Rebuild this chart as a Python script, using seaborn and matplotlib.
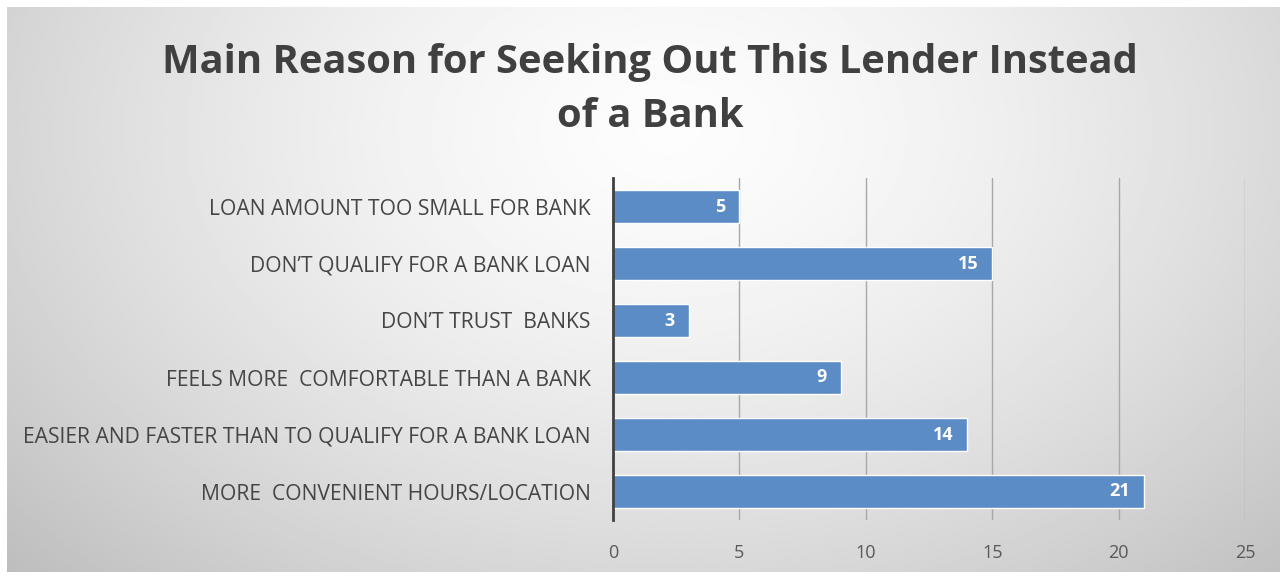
import numpy as np
import pandas as pd
import matplotlib
matplotlib.use("Agg")
import matplotlib.pyplot as plt
import seaborn as sns

# Survey responses
reasons = [
    "LOAN AMOUNT TOO SMALL FOR BANK",
    "DON\u2019T QUALIFY FOR A BANK LOAN",
    "DON\u2019T TRUST  BANKS",
    "FEELS MORE  COMFORTABLE THAN A BANK",
    "EASIER AND FASTER THAN TO QUALIFY FOR A BANK LOAN",
    "MORE  CONVENIENT HOURS/LOCATION",
]
counts = [5, 15, 3, 9, 14, 21]
x_ticks = [0, 5, 10, 15, 20, 25]

df = pd.DataFrame({"reason": reasons, "count": counts})

sns.set_theme(style="white")
plt.rcParams["font.family"] = ["Open Sans", "DejaVu Sans"]

W, H = 1287, 578
fig = plt.figure(figsize=(W / 100, H / 100), dpi=100)
fig.patch.set_facecolor("white")

# Radial grey gradient panel behind the chart
bg = fig.add_axes([7 / W, 1 - 572 / H, (1280 - 7) / W, (572 - 7) / H])
gx, gy = np.meshgrid(np.linspace(0, 1, 600), np.linspace(0, 1, 300))
r = np.sqrt(((gx - 0.52) / 0.6) ** 2 + ((gy - 0.22) / 0.95) ** 2)
shade = np.clip(0.99 - 0.19 * r ** 1.5, 0, 1)
bg.imshow(shade, cmap="gray", vmin=0, vmax=1, aspect="auto",
          extent=[0, 1, 1, 0], interpolation="bilinear")
bg.set_axis_off()

ax = fig.add_axes([613 / W, 1 - 520 / H, (1245 - 613) / W, (520 - 178) / H])
ax.patch.set_alpha(0)

sns.barplot(data=df, y="reason", x="count", orient="h", color="#5b8cc6",
            width=0.58, ax=ax, saturation=1, zorder=3)

ax.set_xlim(0, 25)
ax.set_ylim(5.5, -0.5)
ax.set_xticks(x_ticks)
ax.set_xticklabels([str(t) for t in x_ticks])
ax.grid(axis="x", color="#a8a8a8", linewidth=1.0, zorder=0)
ax.set_axisbelow(True)
for s in ["top", "right", "bottom"]:
    ax.spines[s].set_visible(False)
ax.spines["left"].set_color("#404040")
ax.spines["left"].set_linewidth(2)
ax.spines["left"].set_zorder(5)
ax.set_xlabel("")
ax.set_ylabel("")
ax.tick_params(axis="y", length=0, pad=16, labelsize=15.2, labelcolor="#454545")
ax.tick_params(axis="x", length=0, pad=17, labelsize=13, labelcolor="#595959")

for bar, v in zip(ax.patches, counts):
    ax.text(bar.get_width() - 0.55, bar.get_y() + bar.get_height() / 2, str(v),
            ha="right", va="center", color="white", fontsize=13,
            fontweight="bold", zorder=6)

fig.text(650 / W, 1 - 90 / H, "Main Reason for Seeking Out This Lender Instead\nof a Bank",
         ha="center", va="center", fontsize=28.7, fontweight="bold", color="#404040",
         linespacing=1.5)

fig.savefig("out.png", dpi=100)
